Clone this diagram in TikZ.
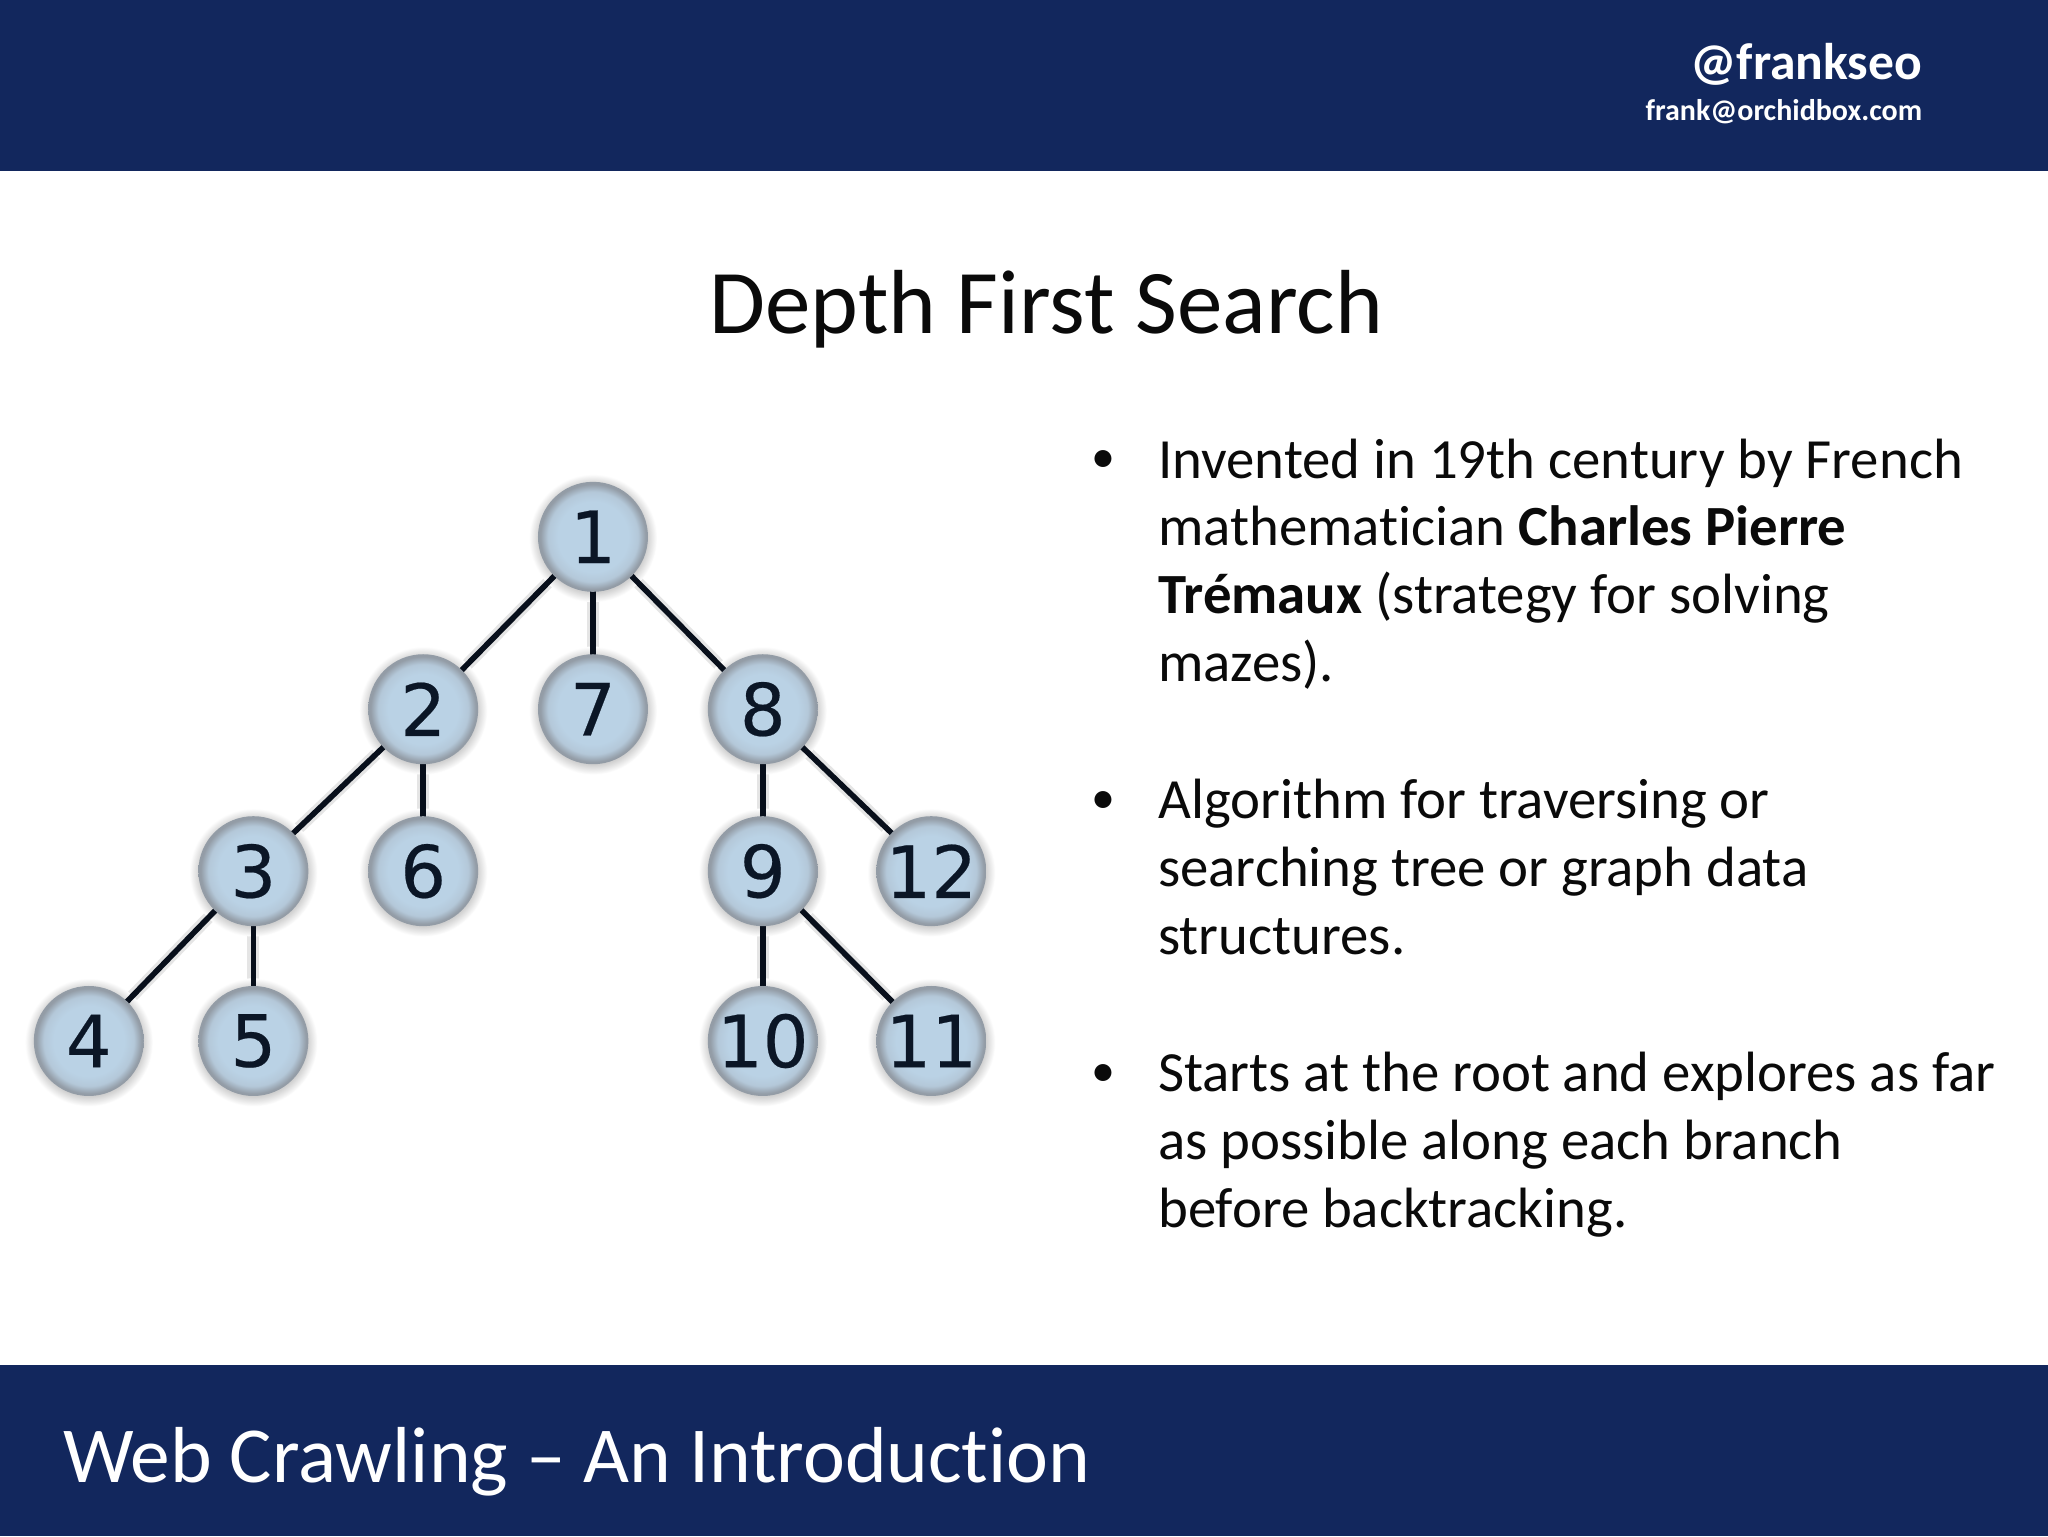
\documentclass[tikz,border=0pt]{standalone}
\usepackage{fontspec}
\setmainfont[Ligatures=NoCommon]{Carlito}
\newfontfamily\digitfont[FakeBold=0.3]{DejaVu Sans}
\definecolor{navy}{HTML}{12275D}
\definecolor{ink}{HTML}{0A0A0A}
\definecolor{nodeink}{HTML}{0B1626}
\definecolor{ballin}{HTML}{BAD2E5}
\definecolor{ballmid}{HTML}{B4C8D9}
\definecolor{ballrim}{HTML}{939CA6}
\definecolor{halo}{HTML}{CFCFCF}
\pgfdeclareradialshading{ballshade}{\pgfpoint{0bp}{0bp}}{%
  color(0bp)=(ballin);color(16bp)=(ballin);color(20.5bp)=(ballmid);color(24bp)=(ballrim);color(25bp)=(ballrim);color(50bp)=(ballrim)}
\pgfdeclareradialshading{haloshade}{\pgfpoint{0bp}{0bp}}{%
  color(0bp)=(halo);color(21bp)=(halo);color(25bp)=(white);color(50bp)=(white)}
\tikzset{
  band/.style={fill=navy,draw=none},
  treenode/.style={circle,minimum size=55pt,inner sep=0pt,shading=ballshade,
     text=nodeink,font=\digitfont\fontsize{36}{36}\selectfont},
  haloball/.style={circle,minimum size=64pt,inner sep=0pt,shading=haloshade},
  edgeglow/.style={line width=6pt,black!10},
  edgeline/.style={line width=2.8pt,nodeink!70!black},
  bodyline/.style={anchor=base west,inner sep=0pt,text=ink,font=\fontsize{28.4}{34}\selectfont},
  bulletmark/.style={anchor=base,inner sep=0pt,text=ink,font=\fontsize{24}{34}\selectfont},
}
\begin{document}
\begin{tikzpicture}[x=0.65306pt,y=-0.65306pt]
\useasboundingbox (0,0) rectangle (1568,1176);
\fill[white] (0,0) rectangle (1568,1176);
\fill[band] (0,0) rectangle (1568,131);
\fill[band] (0,1045) rectangle (1568,1176);

\node[anchor=base east,inner sep=0pt,text=white,font=\bfseries\fontsize{25.8}{30}\selectfont] (handle) at (1472,61) {@frankseo};
\node[anchor=base east,inner sep=0pt,text=white,font=\bfseries\fontsize{15}{20}\selectfont] (mail) at (1472,92) {frank@orchidbox.com};
\node[anchor=base,inner sep=0pt,text=ink,font=\fontsize{45.5}{50}\selectfont] (title) at (801,255) {Depth First Search};
\node[anchor=base west,inner sep=0pt,text=white,font=\fontsize{39.7}{44}\selectfont] (footer) at (48,1135) {Web Crawling – An Introduction};

\foreach \n/\x/\y in {1/454/411,2/324/543,7/454/543,8/584/543,3/194/667,6/324/667,9/584/667,12/713/667,4/68/797,5/194/797,10/584/797,11/713/797}{
  \coordinate (c\n) at (\x,\y);
}
\foreach \a/\b in {1/2,1/7,1/8,2/3,2/6,3/4,3/5,8/9,8/12,9/10,9/11}{
  \draw[edgeglow] (c\a) -- (c\b);
}
\foreach \n/\x/\y in {1/454/411,2/324/543,7/454/543,8/584/543,3/194/667,6/324/667,9/584/667,12/713/667,4/68/797,5/194/797,10/584/797,11/713/797}{
  \node[haloball] (g\n) at (\x,\y+1) {};
}
\foreach \a/\b in {1/2,1/7,1/8,2/3,2/6,3/4,3/5,8/9,8/12,9/10,9/11}{
  \draw[edgeline] (c\a) -- (c\b);
}
\foreach \n/\x/\y in {1/454/411,2/324/543,7/454/543,8/584/543,3/194/667,6/324/667,9/584/667,12/713/667,4/68/797,5/194/797,10/584/797,11/713/797}{
  \node[treenode] (n\n) at (\x,\y) {\n};
}

\node[bulletmark] (b1) at (845,362) {•};
\node[bulletmark] (b2) at (845,623) {•};
\node[bulletmark] (b3) at (845,832) {•};
\node[bodyline] (l1) at (886.5,366) {Invented in 19th century by French};
\node[bodyline] (l2) at (886.5,418) {mathematician \textbf{Charles Pierre}};
\node[bodyline] (l3) at (886.5,470) {\textbf{Trémaux} (strategy for solving};
\node[bodyline] (l4) at (886.5,522) {mazes).};
\node[bodyline] (l5) at (886.5,627) {Algorithm for traversing or};
\node[bodyline] (l6) at (886.5,679) {searching tree or graph data};
\node[bodyline] (l7) at (886.5,731) {structures.};
\node[bodyline] (l8) at (886.5,836) {Starts at the root and explores as far};
\node[bodyline] (l9) at (886.5,888) {as possible along each branch};
\node[bodyline] (l10) at (886.5,940) {before backtracking.};
\end{tikzpicture}
\end{document}
